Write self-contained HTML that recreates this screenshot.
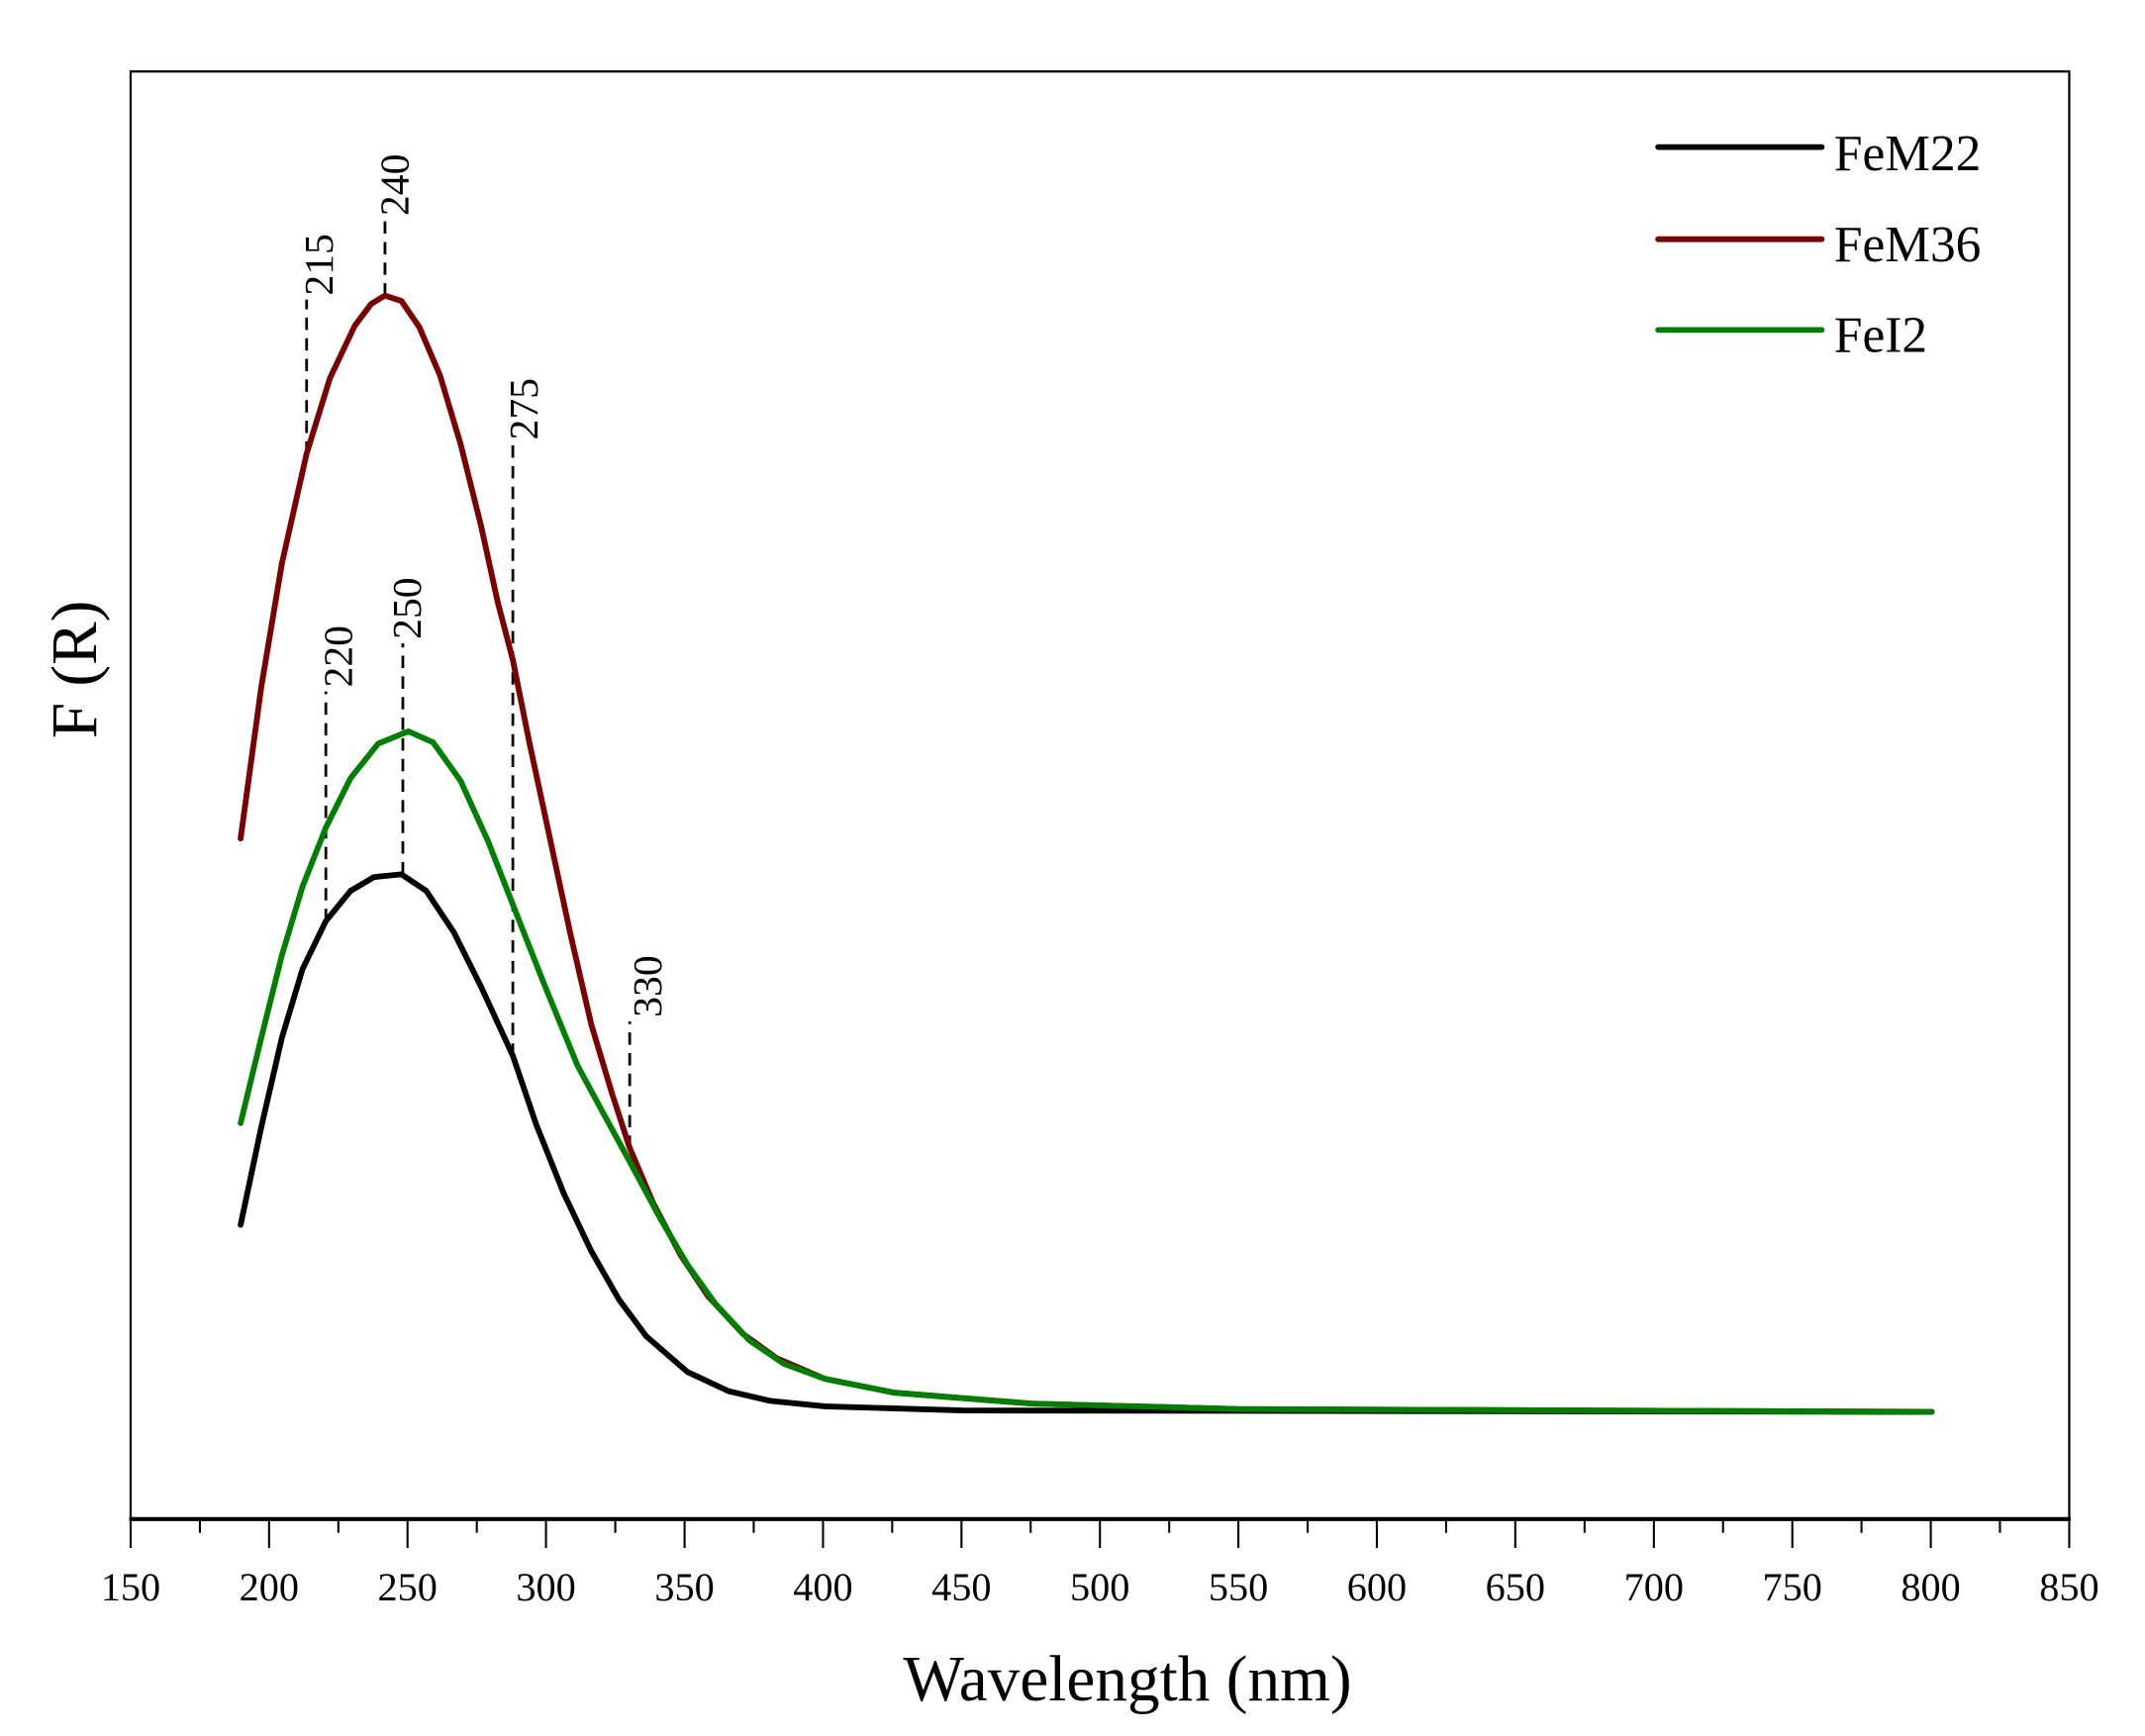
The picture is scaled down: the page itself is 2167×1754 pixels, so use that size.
<!DOCTYPE html>
<html><head><meta charset="utf-8"><style>html,body{margin:0;padding:0;background:#fff}svg{display:block}</style></head>
<body>
<svg width="2167" height="1754" viewBox="0 0 1560.1 1262.8" preserveAspectRatio="none" xmlns="http://www.w3.org/2000/svg" font-family="'Liberation Serif', serif">
<rect x="0" y="0" width="1560.1" height="1262.8" fill="#fff"/>
<rect x="95" y="52" width="1410" height="1053" fill="none" stroke="#000" stroke-width="1.6"/>
<line x1="94" y1="1105" x2="1506" y2="1105" stroke="#000" stroke-width="3"/>
<g stroke="#000" stroke-width="1.5">
<line x1="95" y1="1105" x2="95" y2="1126"/><line x1="145.4" y1="1105" x2="145.4" y2="1115"/>
<line x1="195.7" y1="1105" x2="195.7" y2="1126"/><line x1="246.1" y1="1105" x2="246.1" y2="1115"/>
<line x1="296.4" y1="1105" x2="296.4" y2="1126"/><line x1="346.8" y1="1105" x2="346.8" y2="1115"/>
<line x1="397.1" y1="1105" x2="397.1" y2="1126"/><line x1="447.5" y1="1105" x2="447.5" y2="1115"/>
<line x1="497.9" y1="1105" x2="497.9" y2="1126"/><line x1="548.2" y1="1105" x2="548.2" y2="1115"/>
<line x1="598.6" y1="1105" x2="598.6" y2="1126"/><line x1="648.9" y1="1105" x2="648.9" y2="1115"/>
<line x1="699.3" y1="1105" x2="699.3" y2="1126"/><line x1="749.6" y1="1105" x2="749.6" y2="1115"/>
<line x1="800" y1="1105" x2="800" y2="1126"/><line x1="850.4" y1="1105" x2="850.4" y2="1115"/>
<line x1="900.7" y1="1105" x2="900.7" y2="1126"/><line x1="951.1" y1="1105" x2="951.1" y2="1115"/>
<line x1="1001.4" y1="1105" x2="1001.4" y2="1126"/><line x1="1051.8" y1="1105" x2="1051.8" y2="1115"/>
<line x1="1102.1" y1="1105" x2="1102.1" y2="1126"/><line x1="1152.5" y1="1105" x2="1152.5" y2="1115"/>
<line x1="1202.9" y1="1105" x2="1202.9" y2="1126"/><line x1="1253.2" y1="1105" x2="1253.2" y2="1115"/>
<line x1="1303.6" y1="1105" x2="1303.6" y2="1126"/><line x1="1353.9" y1="1105" x2="1353.9" y2="1115"/>
<line x1="1404.3" y1="1105" x2="1404.3" y2="1126"/><line x1="1454.6" y1="1105" x2="1454.6" y2="1115"/>
<line x1="1505" y1="1105" x2="1505" y2="1126"/>
</g>
<g font-size="29" text-anchor="middle" fill="#000">
<text x="95" y="1164">150</text><text x="195.7" y="1164">200</text><text x="296.4" y="1164">250</text>
<text x="397.1" y="1164">300</text><text x="497.9" y="1164">350</text><text x="598.6" y="1164">400</text>
<text x="699.3" y="1164">450</text><text x="800" y="1164">500</text><text x="900.7" y="1164">550</text>
<text x="1001.4" y="1164">600</text><text x="1102.1" y="1164">650</text><text x="1202.9" y="1164">700</text>
<text x="1303.6" y="1164">750</text><text x="1404.3" y="1164">800</text><text x="1505" y="1164">850</text>
</g>
<text x="820" y="1237" font-size="47" text-anchor="middle">Wavelength (nm)</text>
<text transform="translate(70,487) rotate(-90)" font-size="47" text-anchor="middle">F (R)</text>

<g stroke="#000" stroke-width="2" stroke-dasharray="9,6" fill="none">
<line x1="223" y1="330" x2="223" y2="218"/>
<line x1="280" y1="215" x2="280" y2="158"/>
<line x1="237" y1="670" x2="237" y2="503"/>
<line x1="293" y1="636" x2="293" y2="468"/>
<line x1="373" y1="768" x2="373" y2="323"/>
<line x1="458" y1="835" x2="458" y2="743"/>
</g>
<g font-size="30" fill="#000">
<text transform="translate(242,215) rotate(-90)">215</text>
<text transform="translate(297,157) rotate(-90)">240</text>
<text transform="translate(256,500) rotate(-90)">220</text>
<text transform="translate(306,465) rotate(-90)">250</text>
<text transform="translate(391,320) rotate(-90)">275</text>
<text transform="translate(481,740) rotate(-90)">330</text>
</g>

<g fill="none" stroke-width="4.2" stroke-linejoin="round" stroke-linecap="round">
<polyline stroke="#000" points="175,891 190,820 205,755 220,705 237,670 255,648 272,638 292,636 310,648 330,678 350,718 373,768 390,818 410,868 430,910 450,945 470,972 500,998 530,1012 560,1019 600,1023 700,1026 1405,1027"/>
<polyline stroke="#7b0000" points="175,610 190,500 205,410 223,330 240,275 258,237 270,221 280,215 292,219 305,238 320,273 335,323 350,383 362,438 373,480 385,540 400,610 415,680 430,745 445,795 458,835 475,875 495,913 515,943 540,970 565,988 600,1003 650,1013 750,1021 900,1025 1405,1027"/>
<polyline stroke="#008000" points="175,817 190,755 205,695 220,645 237,602 255,566 275,541 297,532 315,540 335,568 355,612 373,658 395,714 420,775 440,812 458,845 480,886 500,920 520,948 545,975 570,992 600,1003 650,1013 750,1021 900,1025 1405,1027"/>
</g>

<g stroke-width="4.2" stroke-linecap="round">
<line x1="1206" y1="107" x2="1325" y2="107" stroke="#000"/>
<line x1="1206" y1="174" x2="1325" y2="174" stroke="#7b0000"/>
<line x1="1206" y1="240" x2="1325" y2="240" stroke="#008000"/>
</g>
<g font-size="37" fill="#000">
<text x="1334" y="124">FeM22</text>
<text x="1334" y="190">FeM36</text>
<text x="1334" y="256">FeI2</text>
</g>
</svg>
</body></html>
